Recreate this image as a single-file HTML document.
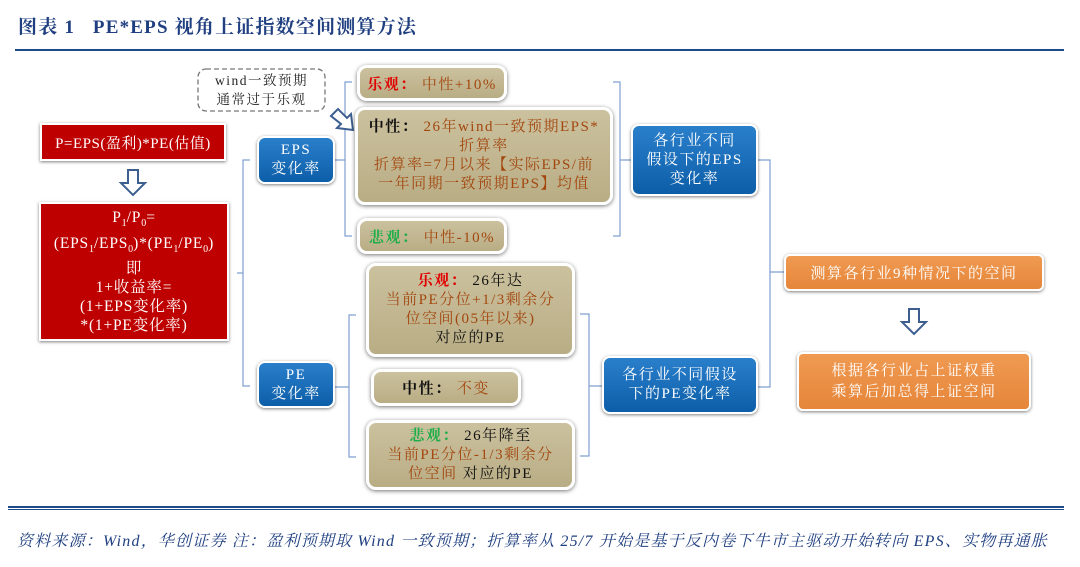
<!DOCTYPE html>
<html><head><meta charset="utf-8"><style>
body{margin:0;width:1080px;height:567px;background:#fff;position:relative;overflow:hidden;font-family:"Liberation Serif","Noto Serif CJK SC",serif;}
.a{position:absolute;box-sizing:border-box;display:flex;align-items:center;justify-content:center;text-align:center;font-size:15px;letter-spacing:1.5px;white-space:nowrap;}
.red{background:#bf0000;color:#fff;border:2px solid #fff;box-shadow:0 1px 3px rgba(0,0,0,.5);}
.blue{background:linear-gradient(#2a7fcb,#0d5ea8);color:#fff;border:2px solid #fff;border-radius:8px;box-shadow:0 1px 3px rgba(0,0,0,.5);}
.tan{background:linear-gradient(#cbc19e,#b9ad85);color:#a3470f;border:3px solid #fff;border-radius:10px;box-shadow:0 1px 4px rgba(0,0,0,.55);}
.org{background:linear-gradient(#f09a52,#e5863a);color:#fff;border:2px solid #fff;border-radius:6px;box-shadow:0 1px 3px rgba(0,0,0,.5);}
.r{color:#e00000}.g{color:#1fae4a}.k{color:#111}
sub{font-size:10px;letter-spacing:0}
</style></head><body>
<div style="position:absolute;left:18px;top:12px;font-size:19px;font-weight:bold;color:#1f3f80;letter-spacing:1.2px;">图表 1&nbsp;&nbsp; PE*EPS 视角上证指数空间测算方法</div>
<div style="position:absolute;left:15px;top:49px;width:1049px;height:2px;background:#1f4a8a;"></div>
<div style="position:absolute;left:8px;top:506px;width:1056px;height:2px;background:#1f4a8a;"></div>
<div style="position:absolute;left:8px;top:509px;width:1056px;height:1px;background:#1f4a8a;"></div>
<div style="position:absolute;left:17px;top:528px;font-size:16px;letter-spacing:1.2px;font-style:italic;color:#1f3f80;white-space:nowrap;">资料来源：Wind，华创证券 注：盈利预期取 Wind 一致预期；折算率从 25/7 开始是基于反内卷下牛市主驱动开始转向 EPS、实物再通胀</div>

<svg style="position:absolute;left:0;top:0" width="1080" height="567">
<g stroke="#7fa0d0" stroke-width="1.2" fill="none">
<path d="M250 160H243V386H250M243 273H237"/>
<path d="M352 82H345V236H352M345 160H334"/>
<path d="M356 315H349V457H356M349 387H334"/>
<path d="M613 82H620V236H613M620 160H632"/>
<path d="M580 314H589V456H580M589 386H603"/>
<path d="M757 160H770V387H757M770 272H785"/>
</g>
<g stroke="#3d5f8f" stroke-width="2" fill="#fff">
<path d="M128 170H138V183H145L133 195L121 183H128Z"/>
<path d="M909 309H919V322H926L914 334L902 322H909Z"/>
<path d="M331 116L338 109L347 118L351 114L353 130L337 128L341 124Z"/>
</g>
<rect x="198" y="69" width="127" height="42" rx="8" fill="#fff" stroke="#777" stroke-width="1.3" stroke-dasharray="5,3"/>
</svg>
<div class="a" style="left:198px;top:69px;width:127px;height:42px;font-size:13.5px;line-height:19px;color:#222;letter-spacing:1.5px;"><span>wind一致预期<br>通常过于乐观</span></div>

<div class="a red" style="left:40px;top:123px;width:186px;height:38px;font-size:15px;letter-spacing:0.5px;"><span>P=EPS(盈利)*PE(估值)</span></div>
<div class="a red" style="left:39px;top:202px;width:190px;height:139px;font-size:15.5px;line-height:19px;letter-spacing:0.8px;"><span>P<sub>1</sub>/P<sub>0</sub>=<br>(EPS<sub>1</sub>/EPS<sub>0</sub>)*(PE<sub>1</sub>/PE<sub>0</sub>)<br>即<br>1+收益率=<br>(1+EPS变化率)<br>*(1+PE变化率)</span></div>

<div class="a blue" style="left:257px;top:136px;width:78px;height:48px;line-height:19px;"><span>EPS<br>变化率</span></div>
<div class="a blue" style="left:257px;top:361px;width:78px;height:47px;line-height:19px;"><span>PE<br>变化率</span></div>

<div class="a tan" style="left:357px;top:65px;width:150px;height:36px;"><span><b class="r">乐观：</b> 中性+10%</span></div>
<div class="a tan" style="left:355px;top:107px;width:258px;height:98px;line-height:19px;"><span><b class="k">中性：</b> 26年wind一致预期EPS*<br>折算率<br>折算率=7月以来【实际EPS/前<br>一年同期一致预期EPS】均值</span></div>
<div class="a tan" style="left:357px;top:218px;width:150px;height:36px;"><span><b class="g">悲观：</b> 中性-10%</span></div>

<div class="a tan" style="left:366px;top:263px;width:209px;height:94px;line-height:19px;"><span><b class="r">乐观：</b> <span class="k">26年达</span><br>当前PE分位+1/3剩余分<br>位空间(05年以来)<br><span class="k">对应的PE</span></span></div>
<div class="a tan" style="left:371px;top:369px;width:150px;height:37px;"><span><b class="k">中性：</b> 不变</span></div>
<div class="a tan" style="left:366px;top:420px;width:209px;height:70px;line-height:19px;"><span><b class="g">悲观：</b> <span class="k">26年降至</span><br>当前PE分位-1/3剩余分<br>位空间 <span class="k">对应的PE</span></span></div>

<div class="a blue" style="left:631px;top:124px;width:127px;height:72px;line-height:19px;"><span>各行业不同<br>假设下的EPS<br>变化率</span></div>
<div class="a blue" style="left:602px;top:356px;width:156px;height:58px;line-height:19px;"><span>各行业不同假设<br>下的PE变化率</span></div>

<div class="a org" style="left:784px;top:254px;width:260px;height:37px;"><span>测算各行业9种情况下的空间</span></div>
<div class="a org" style="left:797px;top:352px;width:234px;height:59px;line-height:21px;"><span>根据各行业占上证权重<br>乘算后加总得上证空间</span></div>
</body></html>
